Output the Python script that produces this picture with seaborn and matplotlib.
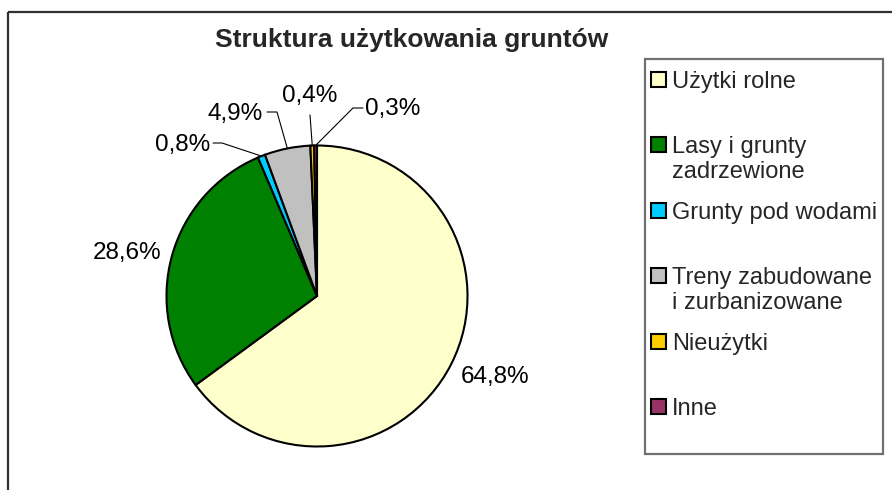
import numpy as np
import matplotlib
matplotlib.use("Agg")
import matplotlib.pyplot as plt
from matplotlib.patches import Rectangle
import seaborn as sns

# data
categories = [
    "Użytki rolne",
    "Lasy i grunty\nzadrzewione",
    "Grunty pod wodami",
    "Treny zabudowane\ni zurbanizowane",
    "Nieużytki",
    "Inne",
]
shares = [64.8, 28.6, 0.8, 4.9, 0.4, 0.3]
pct_labels = ["64,8%", "28,6%", "0,8%", "4,9%", "0,4%", "0,3%"]
colors = ["#FFFFCC", "#008000", "#00CCFF", "#C0C0C0", "#FFCC00", "#993366"]
title = "Struktura użytkowania gruntów"

# layout (pixel coordinates, y pointing down)
W, H = 892, 490
pie_center = (317, 296)
pie_radius = 150.5
label_pos = [(495.5, 383), (127.5, 259), (182.5, 151), (235, 120), (310, 102), (392.5, 115)]
leader_pts = [None, None, [(213, 143), (222, 143)], [(267, 112), (277, 112)],
              [(310, 115)], [(363, 108), (353, 108)]]

sns.set_theme(style="white")
plt.rcParams["font.family"] = ["Liberation Sans", "DejaVu Sans"]

fig = plt.figure(figsize=(W / 100, H / 100), dpi=100)
ax = fig.add_axes([0, 0, 1, 1])

wedges, _ = ax.pie(
    shares,
    colors=colors,
    startangle=-90,
    counterclock=True,
    center=pie_center,
    radius=pie_radius,
    wedgeprops=dict(edgecolor="black", linewidth=1.5),
)
ax.set_xlim(0, W)
ax.set_ylim(H, 0)
ax.set_aspect("equal")
ax.axis("off")

# percentage labels with leader lines
for w, lab, pos, pts in zip(wedges, pct_labels, label_pos, leader_pts):
    ax.text(pos[0], pos[1], lab, ha="center", va="baseline", fontsize=17.5, color="black")
    if pts is not None:
        mid = np.deg2rad((w.theta1 + w.theta2) / 2)
        end = (pie_center[0] + pie_radius * np.cos(mid), pie_center[1] + pie_radius * np.sin(mid))
        xs = [p[0] for p in pts] + [end[0]]
        ys = [p[1] for p in pts] + [end[1]]
        ax.plot(xs, ys, color="black", lw=0.8)

# title
ax.text(411.5, 47, title, ha="center", va="baseline", fontsize=19, fontweight="bold")

# chart frame
ax.add_patch(Rectangle((8, 12), W, H, fill=False, edgecolor="#303030", lw=1.6, clip_on=False))

# legend drawn by hand so entries are evenly spread like the original
ax.add_patch(Rectangle((645, 59), 238, 395, fill=False, edgecolor="#707070", lw=1.6))
first_base = 87.7
step = 65.5
for i, (cat, col) in enumerate(zip(categories, colors)):
    base = first_base + i * step
    ax.add_patch(Rectangle((651, base - 16), 15, 15, facecolor=col, edgecolor="black", lw=1.5))
    for j, line in enumerate(cat.split("\n")):
        ax.text(672, base + j * 25, line, ha="left", va="baseline", fontsize=17)

fig.savefig("out.png", dpi=100)
